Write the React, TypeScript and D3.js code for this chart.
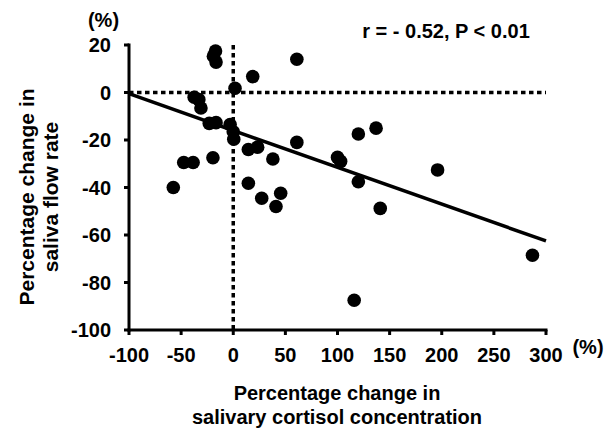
import React from "react";
import * as d3 from "d3";

const cortisolChange = [
  -57.5, -47.5, -38.5, -37.5, -33, -31, -23, -16.5, -19.5, -17, -19, -16.5,
  -3, 0, 0.5, 1.7, 18.7, 14.5, 23.4, 38, 61, 61, 14.5, 27.3, 41, 45.5,
  100, 103, 120, 137, 120, 141, 196, 287, 116,
];
const salivaChange = [
  -40, -29.5, -29.5, -2, -3, -6.5, -13, -12.7, -27.5, 17.5, 15.3, 12.8,
  -13.5, -16.5, -19.7, 1.8, 6.7, -24, -23, -28, -21, 14, -38.2, -44.5, -48, -42.4,
  -27.3, -29, -17.5, -15, -37.6, -48.8, -32.6, -68.5, -87.5,
];
const xTicks = [-100, -50, 0, 50, 100, 150, 200, 250, 300];
const yTicks = [20, 0, -20, -40, -60, -80, -100];
const fitIntercept = -16;
const fitSlope = -0.155;
const fitRange = [-100, 300];

const W = 614;
const H = 430;
const FONT = "'Liberation Sans', Arial, Helvetica, sans-serif";

export default function App() {
  const x = d3.scaleLinear().domain([-100, 300]).range([129, 546]);
  const y = d3.scaleLinear().domain([-100, 20]).range([330, 45]);
  const pts = cortisolChange.map((cx, i) => [cx, salivaChange[i]] as [number, number]);
  const line = d3
    .line<number>()
    .x((d) => x(d))
    .y((d) => y(fitIntercept + fitSlope * d));

  return (
    <svg
      width={W}
      height={H}
      style={{ position: "absolute", left: 0, top: 0, background: "#fff" }}
      fontFamily={FONT}
      fontWeight="bold"
    >
      <rect width={W} height={H} fill="#fff" />
      {/* dotted reference lines */}
      <line x1={x(-100)} x2={x(300)} y1={y(0)} y2={y(0)} stroke="#000" strokeWidth={3.5} strokeDasharray="4.5,3.5" />
      <line x1={x(0)} x2={x(0)} y1={y(20)} y2={y(-100)} stroke="#000" strokeWidth={3.5} strokeDasharray="4.5,3.5" />
      {/* axes */}
      <line x1={x(-100)} x2={x(-100)} y1={y(20) - 1.5} y2={y(-100) + 1.5} stroke="#000" strokeWidth={3} />
      <line x1={x(-100) - 1.5} x2={x(300) + 1.5} y1={y(-100)} y2={y(-100)} stroke="#000" strokeWidth={3} />
      {yTicks.map((t) => (
        <g key={"y" + t}>
          <line x1={x(-100) - 5} x2={x(-100)} y1={y(t)} y2={y(t)} stroke="#000" strokeWidth={3} />
          <text x={111} y={y(t)} dy="0.36em" textAnchor="end" fontSize={20}>
            {t}
          </text>
        </g>
      ))}
      {xTicks.map((t) => (
        <g key={"x" + t}>
          <line x1={x(t)} x2={x(t)} y1={y(-100)} y2={y(-100) + 5} stroke="#000" strokeWidth={3} />
          <text x={x(t)} y={362} textAnchor="middle" fontSize={20}>
            {t}
          </text>
        </g>
      ))}
      {/* regression line */}
      <path d={line(fitRange) || ""} stroke="#000" strokeWidth={3.5} fill="none" />
      {/* points */}
      {pts.map(([a, b], i) => (
        <circle key={i} cx={x(a)} cy={y(b)} r={6.8} fill="#000" />
      ))}
      {/* labels */}
      <text x={103.5} y={27} textAnchor="middle" fontSize={20}>(%)</text>
      <text x={588} y={354} textAnchor="middle" fontSize={20}>(%)</text>
      <text x={446} y={38} textAnchor="middle" fontSize={20}>r = - 0.52, P &lt; 0.01</text>
      <text x={337} y={400} textAnchor="middle" fontSize={20}>Percentage change in</text>
      <text x={337} y={423.5} textAnchor="middle" fontSize={20}>salivary cortisol concentration</text>
      <g transform="translate(0,197) rotate(-90)">
        <text x={0} y={34} textAnchor="middle" fontSize={21}>Percentage change in</text>
        <text x={0} y={58} textAnchor="middle" fontSize={21}>saliva flow rate</text>
      </g>
    </svg>
  );
}
